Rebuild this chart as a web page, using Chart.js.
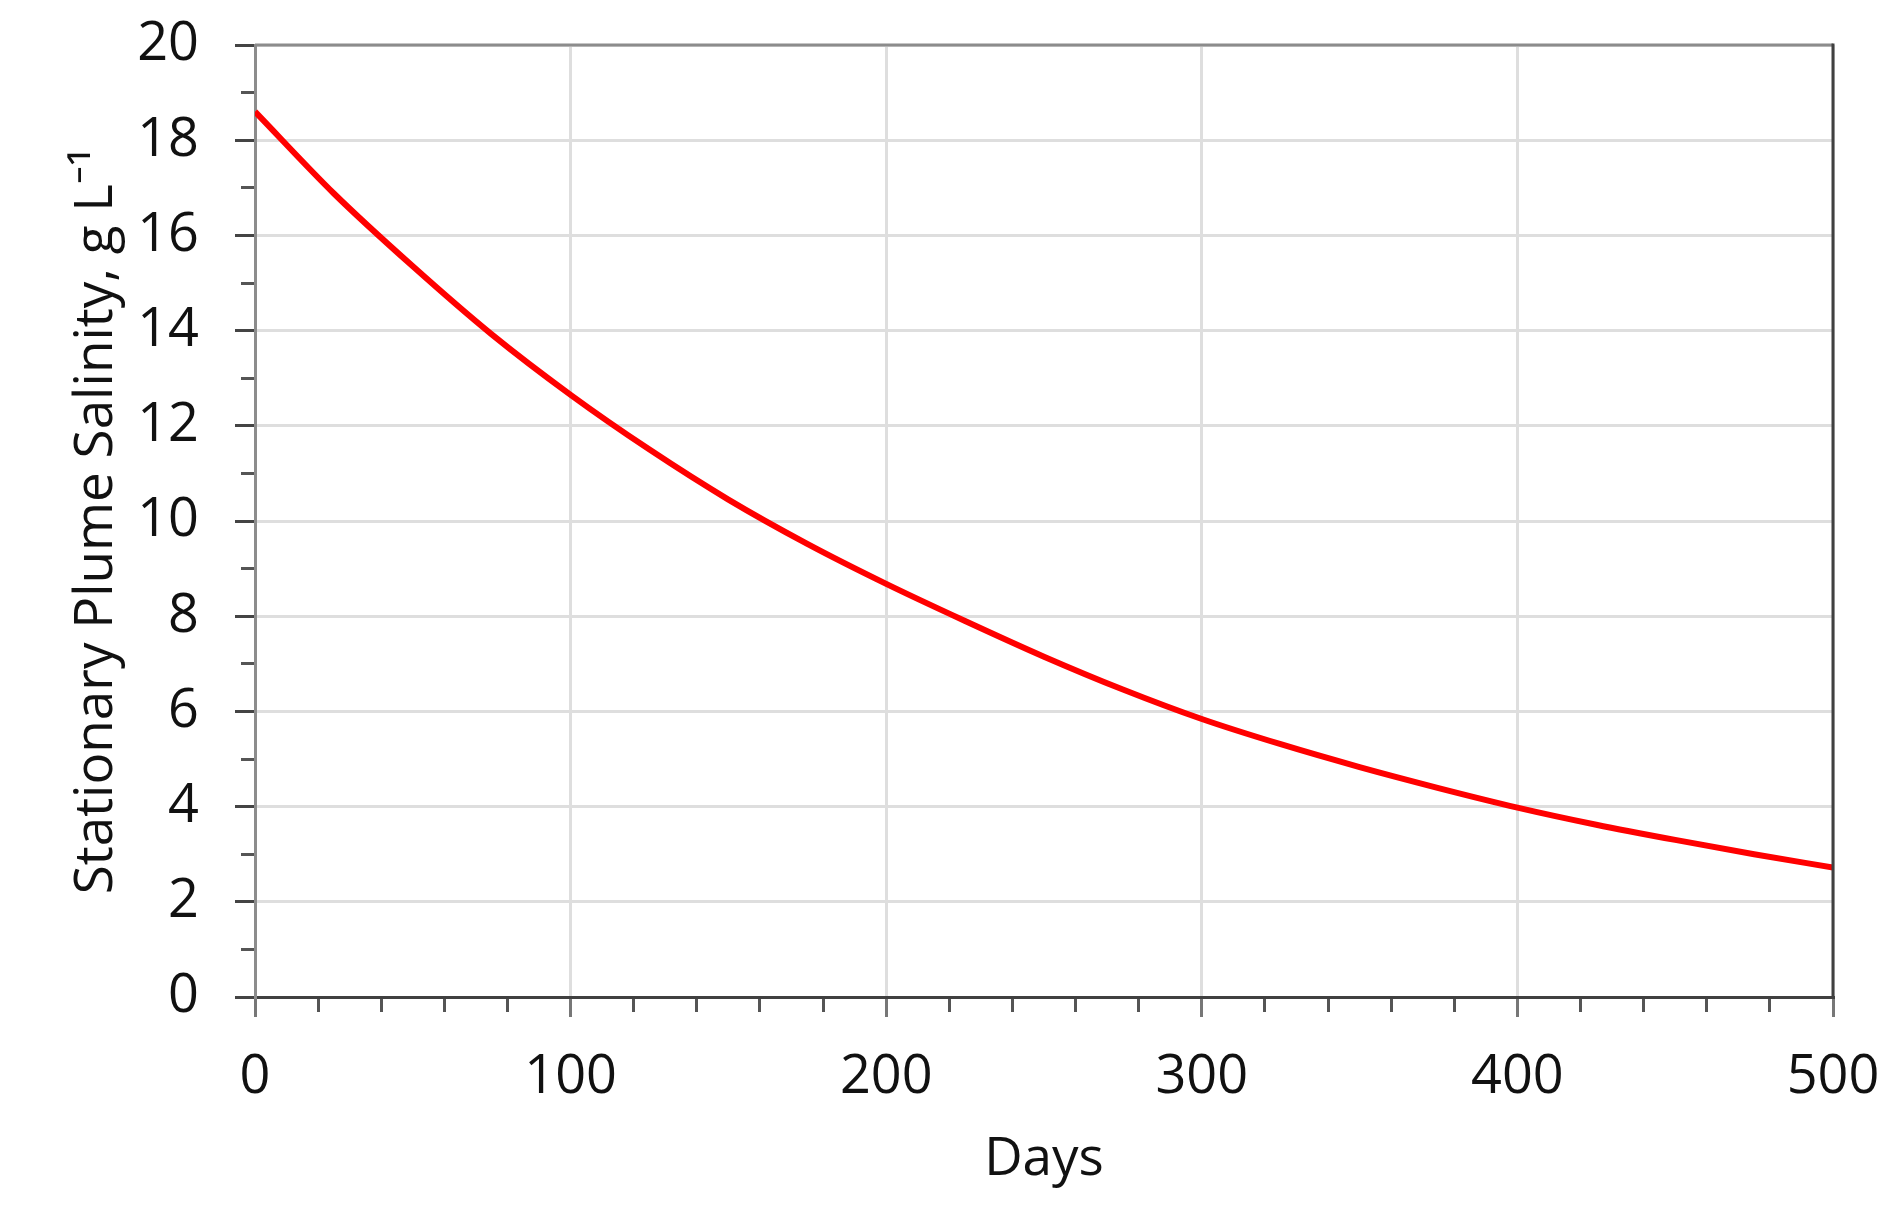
<!DOCTYPE html>
<html>
<head>
<meta charset="utf-8">
<script src="https://cdn.jsdelivr.net/npm/chart.js@4.4.1/dist/chart.umd.min.js"></script>
<style>
html,body{margin:0;padding:0;background:#ffffff;}
canvas{display:block;}
</style>
</head>
<body>
<canvas id="chart" width="1896" height="1209"></canvas>
<script>
// ---- Data ----
const days = [0, 25, 50, 75, 100, 125, 150, 175, 200, 225, 250, 275, 300, 325, 350, 375, 400, 425, 450, 475, 500];
const salinity = [18.6, 16.88, 15.35, 13.92, 12.65, 11.5, 10.45, 9.52, 8.68, 7.9, 7.15, 6.46, 5.84, 5.31, 4.83, 4.39, 3.98, 3.62, 3.3, 3.0, 2.72];

// ---- Tick values / labels ----
const xMajorTicks = [0, 100, 200, 300, 400, 500];
const xMinorTicks = [0, 20, 40, 60, 80, 100, 120, 140, 160, 180, 200, 220, 240, 260, 280, 300, 320, 340, 360, 380, 400, 420, 440, 460, 480, 500];
const yMajorTicks = [0, 2, 4, 6, 8, 10, 12, 14, 16, 18, 20];
const yMinorTicks = [0, 1, 2, 3, 4, 5, 6, 7, 8, 9, 10, 11, 12, 13, 14, 15, 16, 17, 18, 19, 20];

const xTitle = 'Days';
const yTitle = 'Stationary Plume Salinity, g L\u207B\u00B9';

const FONT = "'Open Sans','Noto Sans','DejaVu Sans',sans-serif";
const TEXT = '#111111';

const frame = {
  id: 'frame',
  afterDraw(chart) {
    const {ctx, chartArea: a} = chart;
    ctx.save();
    ctx.lineWidth = 3;
    ctx.strokeStyle = '#8c8c8c';
    ctx.beginPath();
    ctx.moveTo(a.left, a.top);
    ctx.lineTo(a.right, a.top);
    ctx.stroke();
    ctx.strokeStyle = '#404040';
    ctx.beginPath();
    ctx.moveTo(a.right, a.top - 1.5);
    ctx.lineTo(a.right, a.bottom);
    ctx.stroke();
    ctx.restore();
  }
};

function noPadX(s, h) { s.height = h; s.paddingLeft = 0; s.paddingRight = 0; }
function noPadY(s, w) { s.width = w; s.paddingTop = 0; s.paddingBottom = 0; }

new Chart(document.getElementById('chart').getContext('2d'), {
  type: 'line',
  data: {
    datasets: [{
      data: days.map((d, i) => ({x: d, y: salinity[i]})),
      borderColor: '#ff0000',
      borderWidth: 6,
      pointRadius: 0,
      fill: false,
      cubicInterpolationMode: 'monotone',
      xAxisID: 'x',
      yAxisID: 'y'
    }]
  },
  options: {
    responsive: false,
    animation: false,
    devicePixelRatio: 1,
    layout: {padding: {top: 45, right: 63, left: 0, bottom: 0}},
    plugins: {legend: {display: false}, tooltip: {enabled: false}},
    scales: {
      xMinor: {
        type: 'linear', position: 'bottom', min: 0, max: 500, weight: 0,
        afterBuildTicks: s => { s.ticks = xMinorTicks.map(v => ({value: v})); },
        ticks: {display: false},
        grid: {drawOnChartArea: false, drawTicks: true, tickLength: 15, tickColor: '#555555', tickWidth: 3},
        border: {display: false},
        afterFit: s => noPadX(s, 0)
      },
      x: {
        type: 'linear', position: 'bottom', min: 0, max: 500, weight: 1,
        afterBuildTicks: s => { s.ticks = xMajorTicks.map(v => ({value: v})); },
        ticks: {font: {family: FONT, size: 54}, color: TEXT, padding: 28, maxRotation: 0, autoSkip: false},
        grid: {color: '#dedede', lineWidth: 3, tickLength: 20, tickColor: '#777777', tickWidth: 3},
        border: {color: '#404040', width: 3},
        title: {display: true, text: xTitle, color: TEXT, font: {family: FONT, size: 53}, padding: {top: 0, bottom: 17}},
        afterFit: s => noPadX(s, 212)
      },
      yMinor: {
        type: 'linear', position: 'left', min: 0, max: 20, weight: 0,
        afterBuildTicks: s => { s.ticks = yMinorTicks.map(v => ({value: v})); },
        ticks: {display: false},
        grid: {drawOnChartArea: false, drawTicks: true, tickLength: 14, tickColor: '#555555', tickWidth: 3},
        border: {display: false},
        afterFit: s => noPadY(s, 0)
      },
      y: {
        type: 'linear', position: 'left', min: 0, max: 20, weight: 1,
        afterBuildTicks: s => { s.ticks = yMajorTicks.map(v => ({value: v})); },
        ticks: {font: {family: FONT, size: 54}, color: TEXT, padding: 36, autoSkip: false},
        grid: {color: '#dedede', lineWidth: 3, tickLength: 20, tickColor: '#444444', tickWidth: 3},
        border: {color: '#8c8c8c', width: 3},
        title: {display: true, text: yTitle, color: TEXT, font: {family: FONT, size: 53}, padding: {top: 65, bottom: 0}},
        afterFit: s => noPadY(s, 255)
      }
    }
  },
  plugins: [frame]
});
</script>
</body>
</html>
